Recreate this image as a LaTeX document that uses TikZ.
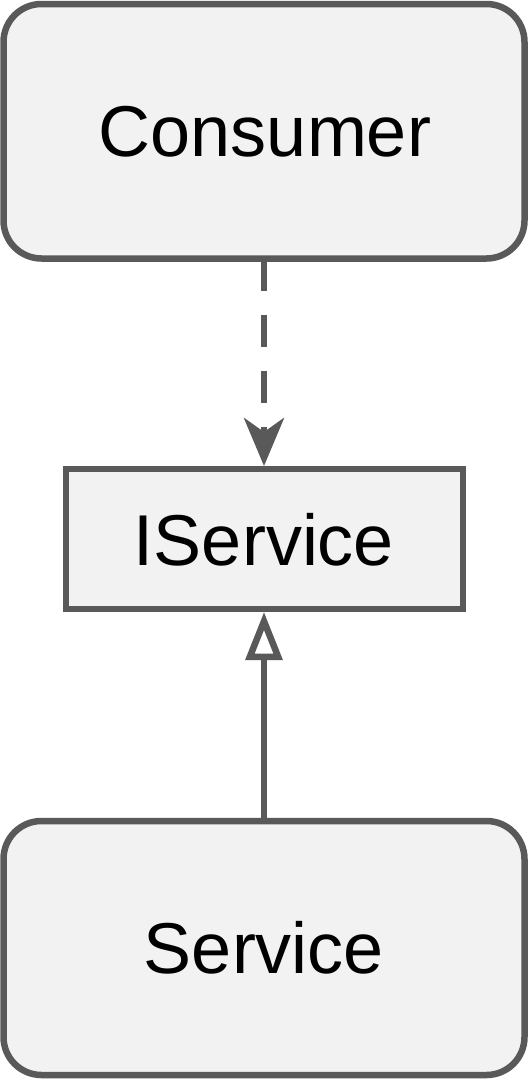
\documentclass[tikz,border=0pt]{standalone}
\usepackage{fontspec}
\setmainfont{Liberation Sans}
\usetikzlibrary{arrows.meta}
\definecolor{edgegray}{HTML}{595959}
\definecolor{boxfill}{HTML}{F2F2F2}
\begin{document}
\begin{tikzpicture}[x=1pt,y=-1pt,
  box/.style={draw=edgegray, fill=boxfill, line width=6.5pt},
  roundbox/.style={box, rounded corners=38pt},
  label/.style={font=\fontsize{72}{80}\selectfont, text=black},
  uses/.style={draw=edgegray, line width=6.5pt, dash pattern=on 32pt off 24pt,
    -{Stealth[length=48pt, width=40pt, inset=14pt]}},
  realizes/.style={draw=edgegray, line width=6.5pt,
    -{Triangle[open, fill=white, length=48pt, width=36pt]}}]
  \useasboundingbox (0,0) rectangle (528,1080);
  % class boxes
  \draw[roundbox] (3.5,4) rectangle (524.5,258.5);
  \node[label] (consumer) at (265,132) {Consumer};
  \coordinate (consumerB) at (264,258.5);
  \draw[box] (66,469) rectangle (463,609);
  \node[label] (iservice) at (264,540) {IService};
  \coordinate (iserviceT) at (264,466);
  \coordinate (iserviceB) at (264,612);
  \draw[roundbox] (3.5,821) rectangle (524.5,1075);
  \node[label] (service) at (264,948) {Service};
  \coordinate (serviceT) at (264,821);
  % dependency and realization
  \draw[uses] (consumerB) -- (iserviceT);
  \draw[realizes] (serviceT) -- (iserviceB);
\end{tikzpicture}
\end{document}
